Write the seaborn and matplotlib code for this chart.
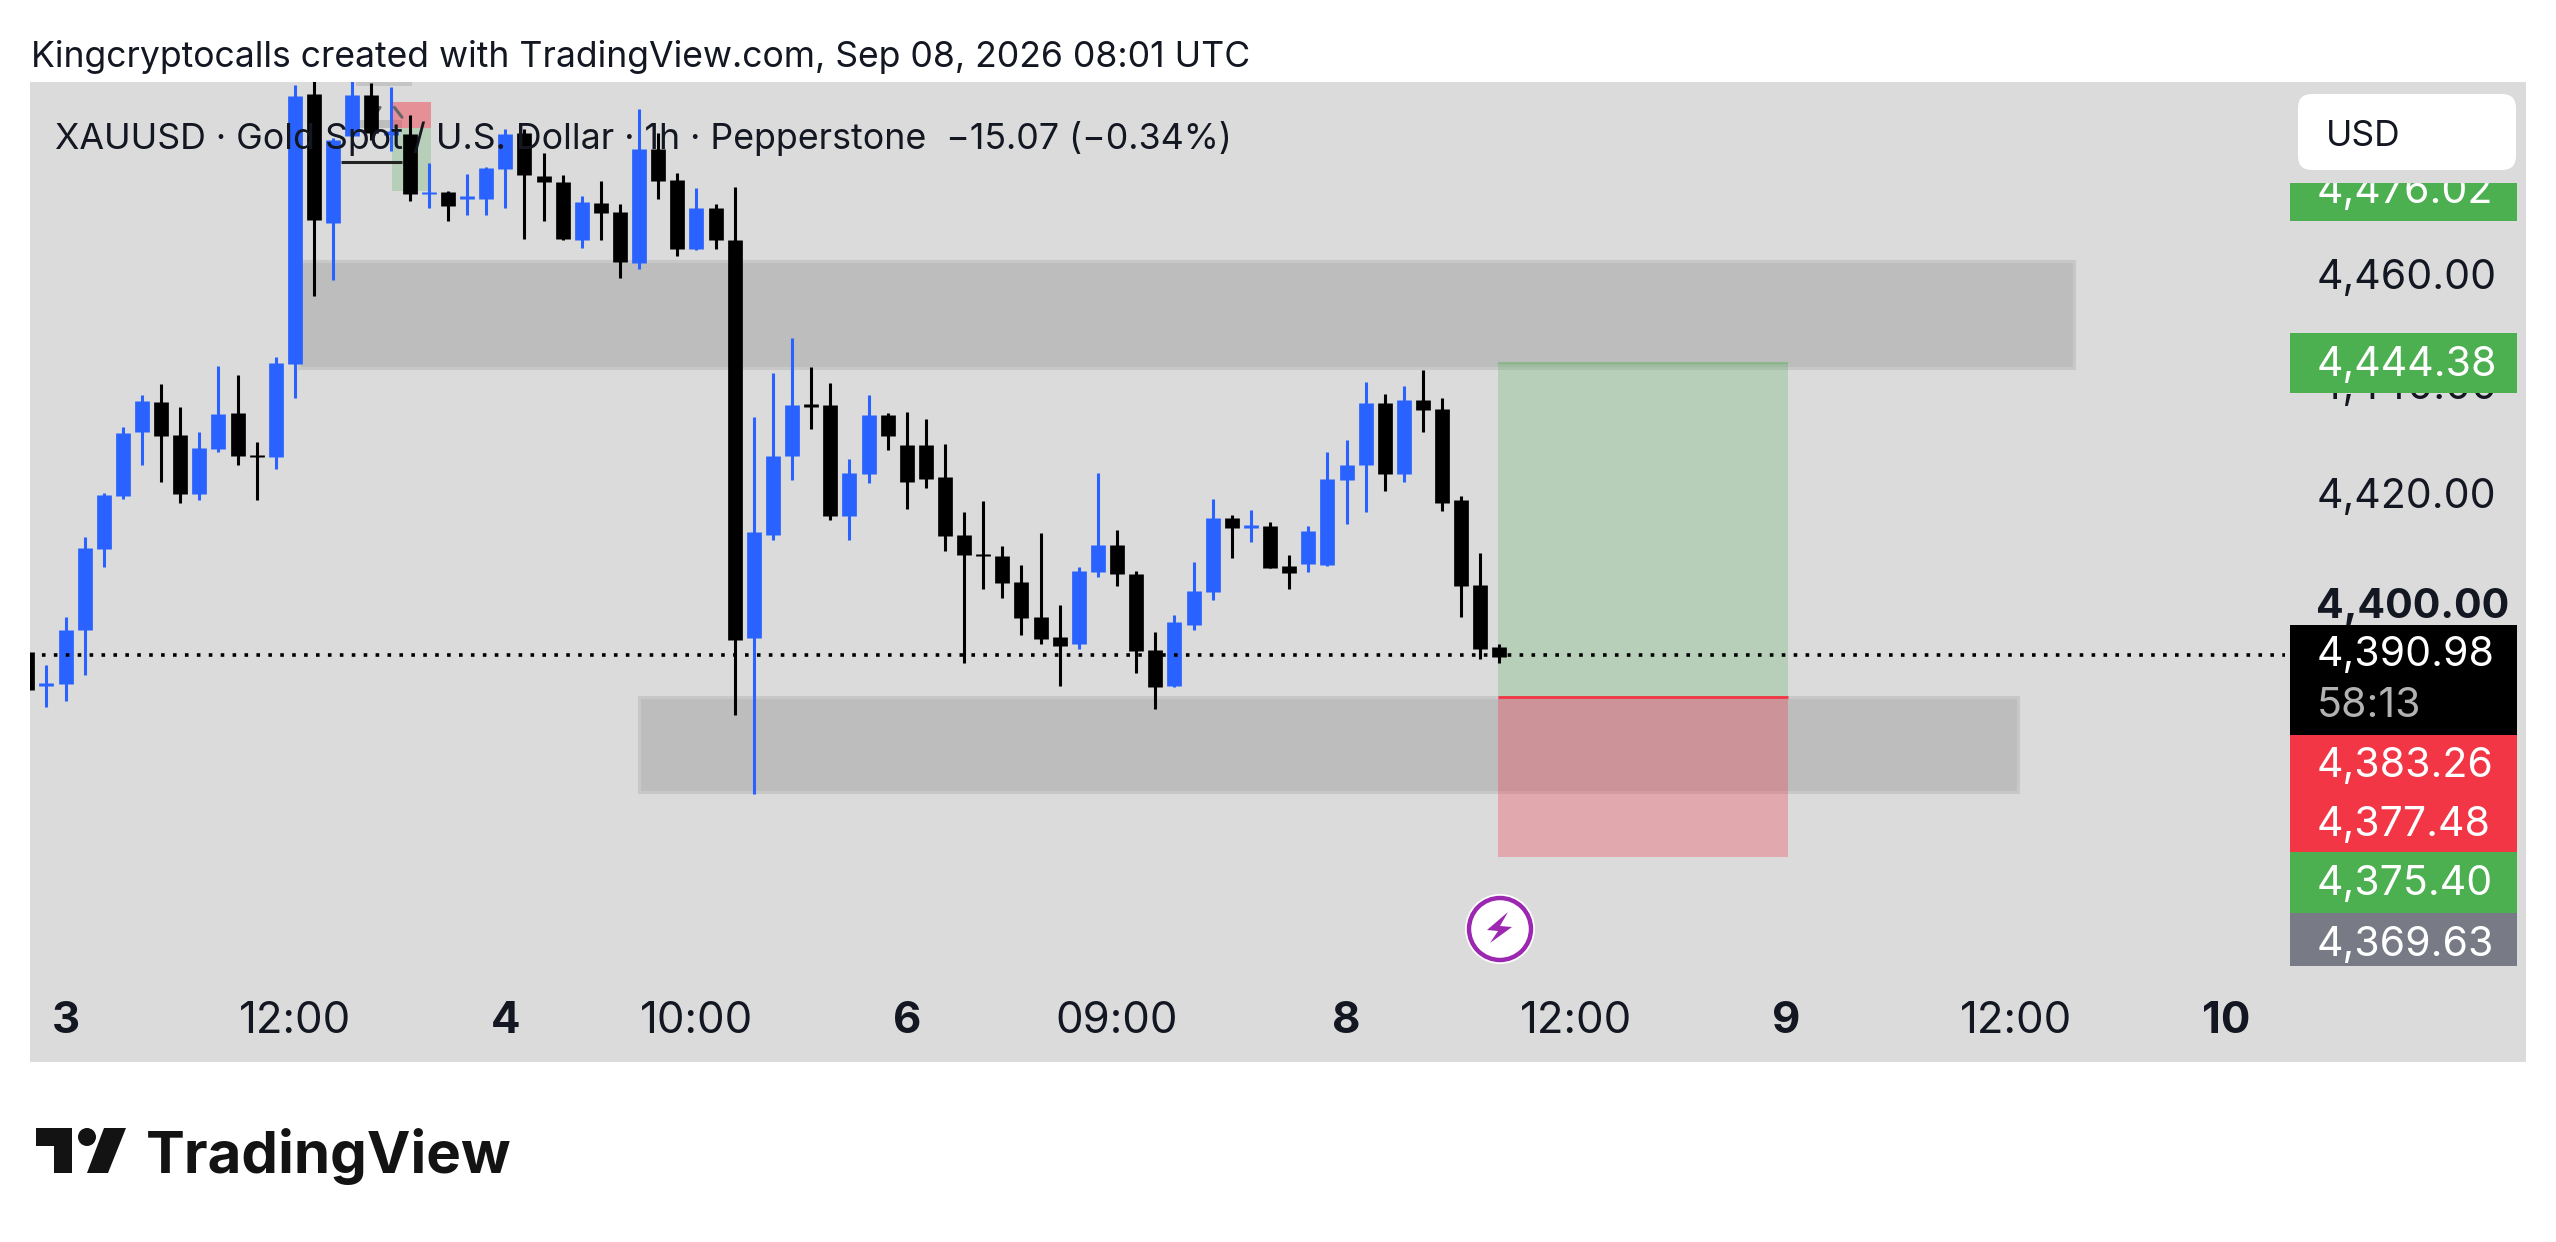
import numpy as np
import pandas as pd
import matplotlib
matplotlib.use("Agg")
import matplotlib.pyplot as plt
from matplotlib.patches import Rectangle, FancyBboxPatch, Polygon, Circle
from matplotlib.transforms import Affine2D, ScaledTranslation
import seaborn as sns

W, H = 2556, 1242

candle_start = -1
highs = [4391.6,4389.2,4397.9,4412.6,4420.6,4432.7,4438.5,4440.5,4436.3,4431.7,
         4443.8,4442.1,4429.8,4445.5,4495.1,4498.0,4485.5,4498.0,4495.4,4494.7,
         4489.7,4480.8,4475.8,4478.8,4480.2,4487.0,4487.0,4482.6,4478.6,4474.9,
         4477.5,4473.3,4490.7,4486.4,4479.1,4476.2,4473.3,4476.4,4434.5,4442.5,
         4448.9,4443.6,4440.7,4426.8,4438.5,4435.1,4435.4,4434.1,4429.5,4417.1,
         4419.1,4410.8,4407.4,4413.3,4400.1,4407.1,4424.3,4413.8,4406.4,4395.1,
         4398.2,4408.0,4419.5,4416.6,4417.5,4415.2,4409.2,4414.5,4428.0,4430.3,
         4440.8,4438.7,4440.1,4443.1,4438.0,4420.1,4409.6,4393.0]
body_tops = [4391.6,4385.8,4395.5,4410.5,4420.2,4431.5,4437.3,4437.2,4431.1,4428.8,
             4435.0,4435.2,4427.6,4444.3,4493.1,4493.5,4485.0,4493.3,4493.3,4486.6,
             4486.2,4475.5,4475.6,4474.9,4480.0,4486.1,4486.4,4478.5,4477.3,4473.7,
             4473.5,4471.9,4483.4,4483.4,4477.7,4472.7,4472.7,4466.8,4413.4,4427.3,
             4436.6,4436.8,4436.6,4424.3,4434.8,4434.8,4429.4,4429.4,4423.5,4412.9,
             4409.4,4409.1,4404.3,4397.9,4394.3,4406.3,4411.1,4411.1,4405.8,4391.9,
             4397.0,4402.7,4416.0,4416.0,4414.8,4414.5,4407.3,4413.6,4423.1,4425.7,
             4437.0,4437.0,4437.5,4437.5,4435.9,4419.3,4403.8,4392.5]
body_bottoms = [4384.6,4385.4,4385.6,4395.6,4410.4,4420.0,4431.8,4431.0,4420.4,4420.4,
                4428.6,4427.3,4427.2,4427.2,4444.1,4470.4,4469.8,4485.7,4486.3,4485.9,
                4475.1,4475.2,4472.9,4474.2,4474.2,4479.7,4478.6,4477.4,4466.9,4466.8,
                4471.7,4462.8,4462.6,4477.5,4465.1,4465.1,4466.8,4393.7,4394.0,4412.9,
                4427.4,4436.3,4416.4,4416.4,4424.1,4430.9,4422.6,4423.2,4412.7,4409.2,
                4409.0,4404.2,4397.8,4393.9,4392.7,4393.0,4406.2,4405.8,4391.8,4385.2,
                4385.3,4396.5,4402.5,4414.2,4414.2,4406.9,4405.9,4407.6,4407.4,4422.9,
                4425.7,4424.1,4424.1,4435.7,4418.7,4403.6,4392.1,4390.7]
lows = [4384.0,4381.4,4382.6,4387.4,4407.0,4419.4,4425.7,4422.5,4418.8,4419.3,
        4428.1,4425.7,4419.2,4425.0,4438.0,4456.6,4459.4,4485.4,4485.0,4483.0,
        4473.9,4472.6,4470.3,4471.3,4471.4,4472.7,4466.9,4470.2,4466.8,4465.4,
        4466.7,4459.8,4461.4,4474.3,4463.8,4465.0,4465.2,4380.1,4365.6,4411.9,
        4422.9,4432.2,4415.7,4411.9,4422.4,4428.5,4417.6,4421.4,4409.9,4389.6,
        4403.1,4401.3,4394.6,4393.0,4385.3,4392.0,4405.2,4403.6,4387.7,4381.1,
        4385.2,4395.5,4401.1,4408.7,4411.6,4406.8,4403.0,4406.2,4407.3,4414.9,
        4417.1,4421.0,4422.6,4431.7,4417.3,4397.9,4390.2,4389.6]
directions = ("d" "uuuuuu" "dd" "uu" "dd" "uu" "d" "uu" "d" "u"   # -1 .. 18
              "d" "u" "d" "uuu" "ddd" "u" "dd" "u" "dd" "u" "dd" "uuu"  # 19 .. 39
              "dd" "uu" "dddddddddd" "uu" "ddd" "uuu" "d" "u" "dd" "uuuu"  # 40 .. 69
              "d" "u" "ddddd")  # 70 .. 76

last_price = 4390.98
price_line_x = [-0.86, 117.1]

upper_zone_price = [4443.4, 4463.0]
upper_zone_x = [13.2, 106.05]
lower_zone_price = [4365.9, 4383.3]
lower_zone_x = [31.0, 103.1]

position_x = [75.92, 91.1]
position_target = 4444.38
position_entry = 4383.26
position_stop = 4354.1

mini_x = [18.08, 20.1]
mini_prices = [4475.7, 4487.2, 4492.0]

y_ticks = [4400, 4420, 4440, 4460]
y_tick_labels = ["4,400.00", "4,420.00", "4,440.00", "4,460.00"]
x_ticks = [1, 13, 24, 34, 45, 56, 68, 80, 91, 103, 114]
x_tick_labels = ["3", "12:00", "4", "10:00", "6", "09:00", "8", "12:00", "9", "12:00", "10"]
x_tick_bold = ["3", "4", "6", "8", "9", "10"]

price_tags = [
    ("4,476.02", "#4caf50"),
    ("4,444.38", "#4caf50"),
    ("4,390.98", "#000000"),
    ("4,383.26", "#f23645"),
    ("4,377.48", "#f23645"),
    ("4,375.40", "#4caf50"),
    ("4,369.63", "#787b86"),
]
countdown = "58:13"
title = "Kingcryptocalls created with TradingView.com, Sep 08, 2026 08:01 UTC"
legend_text = "XAUUSD \u00b7 Gold Spot / U.S. Dollar \u00b7 1h \u00b7 Pepperstone  \u221215.07 (\u22120.34%)"

sns.set_theme(style="white")
plt.rcParams["font.family"] = ["Inter", "DejaVu Sans"]

INK = "#131722"
PANE = "#dbdbdb"
palette = {"u": "#2962ff", "d": "#000000"}

fig = plt.figure(figsize=(W / 100, H / 100), dpi=100, facecolor="white")
ax = fig.add_axes([30 / W, 1 - 1062 / H, (2526 - 30) / W, 980 / H], facecolor=PANE)
px = Affine2D().scale(1 / W, -1 / H).translate(0, 1) + fig.transFigure

idx = np.arange(len(highs)) + candle_start
wicks = pd.DataFrame({
    "i": np.r_[idx, idx], "price": highs + lows,
    "dir": list(directions) * 2, "unit": np.r_[idx, idx],
})
bodies = pd.DataFrame({
    "i": np.r_[idx, idx], "price": body_tops + body_bottoms,
    "dir": list(directions) * 2, "unit": np.r_[idx, idx],
})

# zones
for xs, ps in [(upper_zone_x, upper_zone_price), (lower_zone_x, lower_zone_price)]:
    ax.add_patch(Rectangle((xs[0], ps[0]), xs[1] - xs[0], ps[1] - ps[0], fc="#bdbdbd",
                           ec="#c8c8c8", lw=2.2, zorder=1))

# long position
pw = position_x[1] - position_x[0]
ax.add_patch(Rectangle((position_x[0], position_entry), pw, position_target - position_entry,
                       fc="#4caf50", alpha=0.25, lw=0, zorder=1.5))
ax.add_patch(Rectangle((position_x[0], position_stop), pw, position_entry - position_stop,
                       fc="#f23645", alpha=0.3, lw=0, zorder=1.5))
ax.plot(position_x, [position_target] * 2, color="#4caf50", alpha=0.35, lw=1.6, zorder=1.6,
        solid_capstyle="butt")
ax.plot(position_x, [position_entry] * 2, color="#f23645", lw=2.0, zorder=1.6, solid_capstyle="butt")

# tiny position tool behind the legend
mw = mini_x[1] - mini_x[0]
ax.add_patch(Rectangle((mini_x[0], mini_prices[0]), mw, mini_prices[1] - mini_prices[0],
                       fc="#4caf50", alpha=0.25, lw=0, zorder=1.5))
ax.add_patch(Rectangle((mini_x[0], mini_prices[1]), mw, mini_prices[2] - mini_prices[1],
                       fc="#f23645", alpha=0.45, lw=0, zorder=1.5))
ax.add_patch(Rectangle((16.3, 4487.2), 2.3, 1.5, fc="#bdbdbd", lw=0, zorder=1.4))
ax.add_patch(Rectangle((16.2, 4495.0), 2.9, 1.0, fc="#c4c4c4", lw=0, zorder=1.4))
ax.plot([15.4, 18.6], [4481.0, 4481.0], color="#222222", lw=2.2, zorder=2, solid_capstyle="butt")
ax.plot([18.2, 18.6], [4491.0, 4489.2], color="#666666", lw=2.2, zorder=2)
ax.plot([17.1, 17.45], [4489.2, 4491.0], color="#666666", lw=2.2, zorder=2)

# candles
sns.lineplot(data=wicks, x="i", y="price", hue="dir", units="unit", estimator=None,
             palette=palette, lw=2.2, legend=False, ax=ax, zorder=3, solid_capstyle="butt", sort=False)
sns.lineplot(data=bodies, x="i", y="price", hue="dir", units="unit", estimator=None,
             palette=palette, lw=10.6, legend=False, ax=ax, zorder=3.1, solid_capstyle="butt", sort=False)

# last price line
sns.lineplot(x=price_line_x, y=[last_price] * 2, color="#000000", lw=2.6, ax=ax, zorder=3.2,
             linestyle=(0, (1, 2.3)), estimator=None)

ax.set_xlim(-0.858, 129.69)
ax.set_ylim(4316.64, 4495.64)
ax.set_xlabel("")
ax.set_ylabel("")
sns.despine(ax=ax, left=True, bottom=True, right=True, top=True)
ax.grid(False)

ax.yaxis.tick_right()
ax.set_yticks(y_ticks, y_tick_labels)
ax.tick_params(axis="y", length=0, pad=-151, labelsize=29.5, labelcolor=INK)
up3 = ScaledTranslation(0, 3 / 100, fig.dpi_scale_trans)
for lab in ax.get_yticklabels():
    lab.set_ha("left")
    lab.set_transform(lab.get_transform() + up3)
    if lab.get_text() == "4,400.00":
        lab.set_fontweight("bold")
ax.set_xticks(x_ticks, x_tick_labels)
ax.tick_params(axis="x", length=0, pad=-29, labelsize=31.5, labelcolor=INK)
for lab in ax.get_xticklabels():
    lab.set_va("center")
    if lab.get_text() in x_tick_bold:
        lab.set_fontweight("bold")

# price tags
tag_boxes = [(183, 221), (333, 393), (625, 735), (735, 793), (793, 852), (852, 913), (913, 966)]
tag_text_y = [192, 365, 655, 766, 825, 884, 945]
for (label, colour), (y0, y1), ty in zip(price_tags, tag_boxes, tag_text_y):
    ax.add_patch(Rectangle((2290, y0), 227, y1 - y0, fc=colour, lw=0, transform=px, zorder=6,
                           clip_on=False))
    t = ax.text(2317, ty, label, color="white", fontsize=29.5, va="center", ha="left",
                transform=px, zorder=7, clip_on=False)
    if ty == 192:
        t.set_clip_box(None)
        t.set_clip_path(Rectangle((2290, 183), 227, 38, transform=px))
        t.set_clip_on(True)
ax.text(2317, 706, countdown, color="#b2b2b2", fontsize=29.5, va="center", ha="left",
        transform=px, zorder=7, clip_on=False)

# currency button
ax.add_patch(FancyBboxPatch((2308, 104), 198, 56, boxstyle="round,pad=10,rounding_size=14",
                            fc="white", ec="none", transform=px, zorder=8, clip_on=False))
ax.text(2326, 136, "USD", color=INK, fontsize=25.5, va="center", ha="left", transform=px, zorder=9)

# legend and title
ax.text(55, 138, legend_text, color=INK, fontsize=25.75, va="center", ha="left", transform=px, zorder=9)
fig.text(31, 57, title, color=INK, fontsize=25.65, va="center", ha="left", transform=px)

# flash icon
ax.add_patch(Circle((1500, 929), 35, fc="white", ec="none", transform=px, zorder=6))
ax.add_patch(Circle((1500, 929), 31, fc="white", ec="#9c27b0", lw=3.2, transform=px, zorder=6.1))
ax.add_patch(Polygon([(1508, 912), (1487, 930), (1498, 931), (1490, 943), (1512, 927), (1500, 926)],
                     closed=True, fc="#9c27b0", ec="none", transform=px, zorder=6.2))

# TradingView logo
LOGO = "#131313"
fig.add_artist(Polygon([(36, 1128), (72, 1128), (72, 1173), (54, 1173), (54, 1146), (36, 1146)],
                       closed=True, fc=LOGO, ec="none", transform=px))
fig.add_artist(Circle((87, 1137), 9, fc=LOGO, ec="none", transform=px))
fig.add_artist(Polygon([(104, 1128), (126, 1128), (108, 1173), (87, 1173)],
                       closed=True, fc=LOGO, ec="none", transform=px))
fig.text(146, 1173, "TradingView", color=LOGO, fontsize=42, fontweight="bold", va="baseline", ha="left",
         transform=px)

fig.savefig("out.png", dpi=100, facecolor="white")
